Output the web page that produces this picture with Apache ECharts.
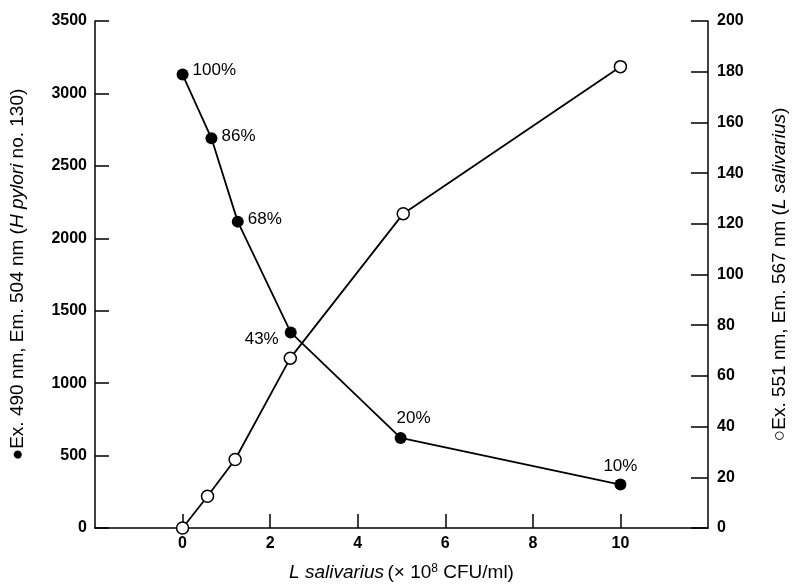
<!DOCTYPE html>
<html>
<head>
<meta charset="utf-8">
<script src="https://cdn.jsdelivr.net/npm/echarts@6/dist/echarts.min.js"></script>
<style>
  html, body { margin: 0; padding: 0; background: #fff; }
  #chart { width: 792px; height: 585px; }
</style>
</head>
<body>
<div id="chart"></div>
<script>
// H pylori (filled), left axis
const hpX = [0, 0.66, 1.26, 2.47, 4.98, 10];
const hpY = [3130, 2690, 2115, 1350, 622, 300];
const hpPct = ["100%", "86%", "68%", "43%", "20%", "10%"];
// L salivarius (open), right axis
const lsX = [0, 0.57, 1.2, 2.46, 5.04, 10];
const lsY = [0, 12.5, 27, 67, 124, 182];
const xTicks = [0, 2, 4, 6, 8, 10];

// where each percent label sits
const pctPos = [
  { position: "right", offset: [0, -4] },
  { position: "right", offset: [0, -2] },
  { position: "right", offset: [0, -2] },
  { position: "left", offset: [-2, 7] },
  { position: "top", offset: [13, -1] },
  { position: "top", offset: [0, 0] },
];

const font = "Liberation Sans, Arial, sans-serif";
const chart = echarts.init(document.getElementById("chart"));

const nameRich = {
  i: { fontStyle: "italic", fontSize: 19, fontFamily: font, color: "#000" },
  n: { fontSize: 19, fontFamily: font, color: "#000" },
};

chart.setOption({
  animation: false,
  textStyle: { fontFamily: font, color: "#000" },
  grid: { left: 95, right: 84, top: 21, bottom: 57, outerBoundsMode: "none" },
  xAxis: {
    type: "value",
    min: -2,
    max: 12,
    interval: 2,
    name: "{i|L salivarius} {n|(× 10}{s|8}{n| CFU/ml)}",
    nameLocation: "middle",
    nameGap: 35,
    nameTextStyle: {
      rich: {
        i: nameRich.i,
        n: nameRich.n,
        s: { fontSize: 12, fontFamily: font, color: "#000", verticalAlign: "top", padding: [0, 0, 8, 0] },
      },
    },
    axisLine: { onZero: false, lineStyle: { color: "#000", width: 1.5 } },
    axisTick: { inside: true, length: 14, customValues: xTicks, lineStyle: { color: "#000", width: 1.5 } },
    axisLabel: {
      customValues: xTicks,
      margin: 8,
      fontSize: 16,
      fontWeight: "bold",
      color: "#000",
    },
    splitLine: { show: false },
  },
  yAxis: [
    {
      type: "value",
      min: 0,
      max: 3500,
      interval: 500,
      name: "{n|●Ex. 490 nm, Em. 504 nm (}{i|H pylori}{n| no. 130)}",
      nameLocation: "middle",
      nameRotate: 90,
      nameGap: 68,
      nameTextStyle: { rich: nameRich },
      axisLine: { show: true, onZero: false, lineStyle: { color: "#000", width: 1.5 } },
      axisTick: { show: true, inside: true, length: 14, lineStyle: { color: "#000", width: 1.5 } },
      axisLabel: { margin: 8, fontSize: 16, fontWeight: "bold", color: "#000", formatter: (v) => String(v) },
      splitLine: { show: false },
    },
    {
      type: "value",
      position: "right",
      min: 0,
      max: 200,
      interval: 20,
      name: "{n|○Ex. 551 nm, Em. 567 nm (}{i|L salivarius}{n|)}",
      nameLocation: "middle",
      nameRotate: 90,
      nameGap: 62,
      nameTextStyle: { rich: nameRich },
      axisLine: { show: true, onZero: false, lineStyle: { color: "#000", width: 1.5 } },
      axisTick: { show: true, inside: true, length: 17, lineStyle: { color: "#000", width: 1.5 } },
      axisLabel: { margin: 9, fontSize: 16, fontWeight: "bold", color: "#000" },
      splitLine: { show: false },
    },
  ],
  series: [
    {
      name: "L salivarius",
      type: "line",
      yAxisIndex: 1,
      data: lsX.map((x, i) => [x, lsY[i]]),
      symbol: "circle",
      symbolSize: 12,
      lineStyle: { color: "#000", width: 1.8 },
      itemStyle: { color: "#fff", borderColor: "#000", borderWidth: 1.5 },
      z: 2,
    },
    {
      name: "H pylori",
      type: "line",
      yAxisIndex: 0,
      data: hpX.map((x, i) => ({
        value: [x, hpY[i]],
        label: {
          show: true,
          formatter: hpPct[i],
          position: pctPos[i].position,
          offset: pctPos[i].offset,
        },
      })),
      symbol: "circle",
      symbolSize: 12,
      lineStyle: { color: "#000", width: 1.8 },
      itemStyle: { color: "#000" },
      label: { fontSize: 17, fontWeight: 500, fontFamily: font, color: "#000", distance: 4 },
      z: 3,
    },
  ],
});
</script>
</body>
</html>
